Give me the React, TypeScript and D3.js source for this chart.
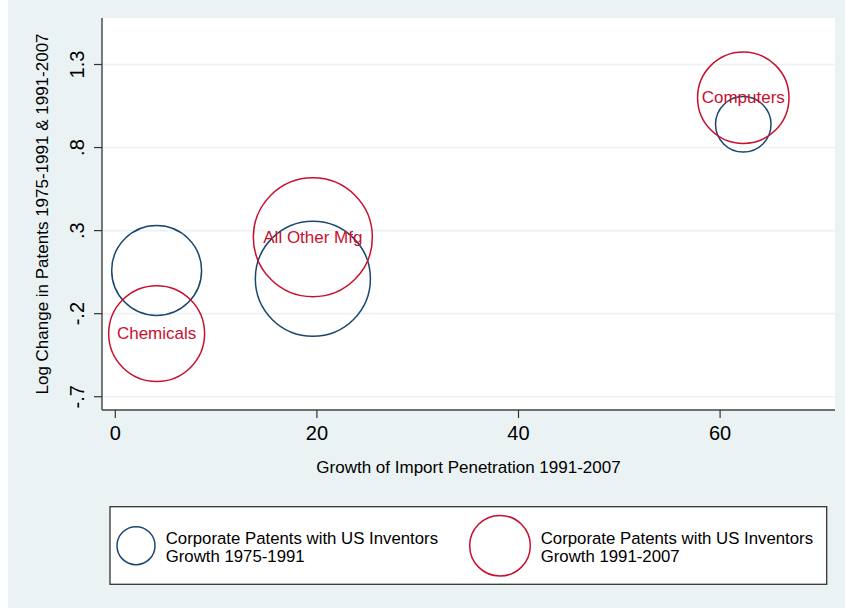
import * as React from 'react'
import * as d3 from 'd3'

// bubble data
const industries = ['Chemicals', 'All Other Mfg', 'Computers']
const importGrowth = [4.1, 19.6, 62.3]
const patentGrowth7591 = [0.06, 0.01, 0.94]
const patentGrowth9107 = [-0.32, 0.26, 1.1]
// bubble weights (area ~ weight)
const weight7591 = [2.02, 3.31, 0.77]
const weight9107 = [2.3, 3.54, 2.09]

const xTicks = [0, 20, 40, 60]
const yTicks = [-0.7, -0.2, 0.3, 0.8, 1.3]
const legendLabels = [
    ['Corporate Patents with US Inventors', 'Growth 1975-1991'],
    ['Corporate Patents with US Inventors', 'Growth 1991-2007'],
]

const xTitle = 'Growth of Import Penetration 1991-2007'
const yTitle = 'Log Change in Patents 1975-1991 & 1991-2007'

export default function App() {
    const W = 845
    const H = 608
    const BG = '#eaf2f3'
    const BLUE = '#1a476f'
    const RED = '#c8102e'
    const FONT = '"Liberation Sans", Arial, Helvetica, sans-serif'
    const plot = { left: 102, right: 835, top: 18, bottom: 410 }

    const x = d3.scaleLinear().domain([-1.32, 71.4]).range([plot.left, plot.right])
    const y = d3.scaleLinear().domain([-0.78, 1.58]).range([plot.bottom, plot.top])
    const r = d3.scaleSqrt().domain([0, 3.54]).range([0, 59.5])

    // Stata style: drop the leading zero, plain hyphen for negatives
    const fmtY = (v: number) => {
        const s = Math.abs(v).toFixed(1).replace(/^0\./, '.')
        return (v < 0 ? '-' : '') + s
    }

    const blue = industries.map((name, i) => ({ name, x: importGrowth[i], y: patentGrowth7591[i], w: weight7591[i] }))
    const red = industries.map((name, i) => ({ name, x: importGrowth[i], y: patentGrowth9107[i], w: weight9107[i] }))

    const legend = { x: 110, y: 506.7, w: 716.7, h: 77.6 }
    const legendItems = [
        { color: BLUE, cx: 136, r: 19, tx: 165.7, lines: legendLabels[0] },
        { color: RED, cx: 500, r: 30.3, tx: 540.7, lines: legendLabels[1] },
    ]

    return <svg width={W} height={H} style={{ position: 'absolute', left: 0, top: 0 }} fontFamily={FONT}>
        <rect x={0} y={0} width={W} height={H} fill="#fff" />
        <rect x={8} y={0} width={W - 8} height={H} fill={BG} />
        <rect x={plot.left} y={plot.top} width={plot.right - plot.left} height={plot.bottom - plot.top} fill="#fff" />

        {/* gridlines */}
        {yTicks.map((t, i) =>
            <line key={i} x1={plot.left} x2={plot.right} y1={y(t)} y2={y(t)} stroke={BG} strokeWidth={1.6} />
        )}

        {/* bubbles */}
        {blue.map((d, i) =>
            <circle key={'b' + i} cx={x(d.x)} cy={y(d.y)} r={r(d.w)} fill="none" stroke={BLUE} strokeWidth={1.5} />
        )}
        {red.map((d, i) =>
            <circle key={'r' + i} cx={x(d.x)} cy={y(d.y)} r={r(d.w)} fill="none" stroke={RED} strokeWidth={1.5} />
        )}
        {red.map((d, i) =>
            <text key={'t' + i} x={x(d.x)} y={y(d.y)} textAnchor="middle" dominantBaseline="central" fontSize={17} fill={RED}>{d.name}</text>
        )}

        {/* axes */}
        <line x1={plot.left} x2={plot.left} y1={plot.top} y2={plot.bottom} stroke="#333" strokeWidth={1.3} />
        <line x1={plot.left} x2={plot.right} y1={plot.bottom} y2={plot.bottom} stroke="#444" strokeWidth={1.5} />
        {yTicks.map((t, i) =>
            <g key={i} transform={`translate(${plot.left} ${y(t)})`}>
                <line x1={0} x2={-8} stroke="#333" strokeWidth={1.2} />
                <text transform="translate(-18 0) rotate(-90)" textAnchor="middle" fontSize={20} fill="#000">{fmtY(t)}</text>
            </g>
        )}
        {xTicks.map((t, i) =>
            <g key={i} transform={`translate(${x(t)} ${plot.bottom})`}>
                <line y1={0} y2={8} stroke="#333" strokeWidth={1.2} />
                <text y={30} textAnchor="middle" fontSize={20} fill="#000">{t}</text>
            </g>
        )}

        <text x={(plot.left + plot.right) / 2} y={472.5} textAnchor="middle" fontSize={17} fill="#000">{xTitle}</text>
        <text transform={`translate(48 ${(plot.top + plot.bottom) / 2}) rotate(-90)`} textAnchor="middle" fontSize={17} fill="#000">{yTitle}</text>

        {/* legend */}
        <rect x={legend.x} y={legend.y} width={legend.w} height={legend.h} fill="#fff" stroke="#333" strokeWidth={1.3} />
        {legendItems.map((it, i) =>
            <g key={i}>
                <circle cx={it.cx} cy={545.7} r={it.r} fill="none" stroke={it.color} strokeWidth={1.5} />
                {it.lines.map((l, j) =>
                    <text key={j} x={it.tx} y={544 + j * 17.5} fontSize={16.8} fill="#000">{l}</text>
                )}
            </g>
        )}
    </svg>
}
